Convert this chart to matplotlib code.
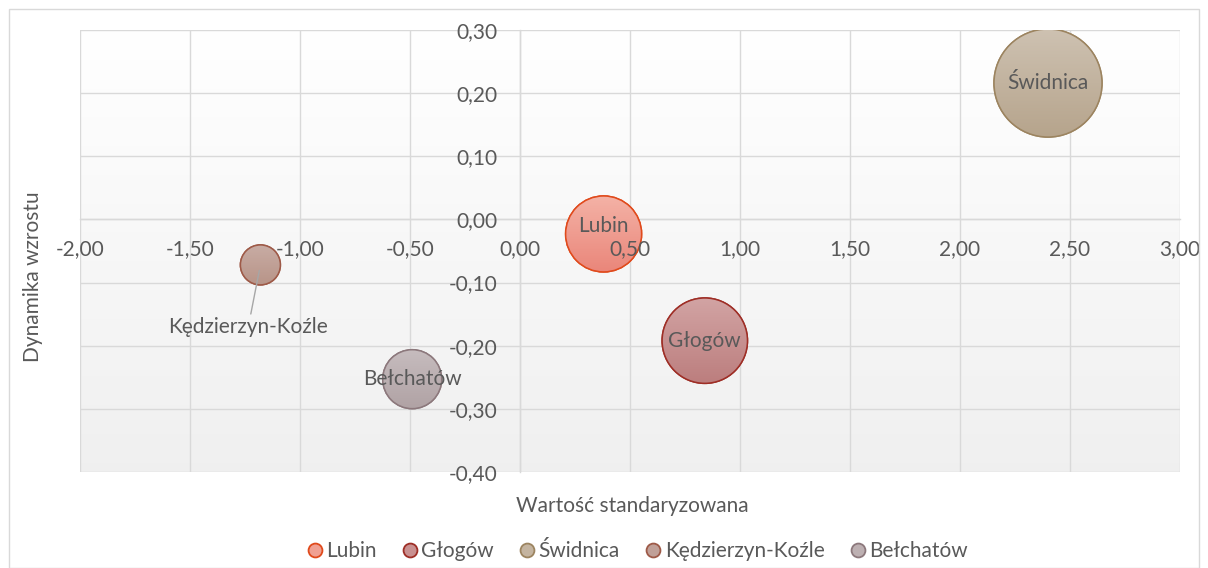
import numpy as np
import matplotlib
matplotlib.use("Agg")
import matplotlib.pyplot as plt
from matplotlib.patches import Circle, Rectangle
from matplotlib.lines import Line2D
from matplotlib.ticker import FuncFormatter, MultipleLocator
from matplotlib.transforms import ScaledTranslation

plt.rcParams['font.family'] = ['Lato', 'DejaVu Sans']

# data
cities = ['Lubin', 'Głogów', 'Świdnica', 'Kędzierzyn-Koźle', 'Bełchatów']
std_value = [0.38, 0.84, 2.40, -1.18, -0.49]
growth = [-0.023, -0.192, 0.216, -0.072, -0.253]
bubble_size = [49.5, 62.5, 100.0, 13.7, 29.8]

# styles
top_col = ['#F4B2A6', '#D2A4A4', '#CEC2B2', '#C8ACA4', '#C6BCBE']
bot_col = ['#EA867A', '#BC7E7E', '#B6A48C', '#B89488', '#B0A2A4']
edge_col = ['#E04A1C', '#9E2E26', '#9C8460', '#9E5A48', '#8C787C']
legend_fill = ['#F0A092', '#C99090', '#C4B4A0', '#C0A098', '#BDB0B2']
txt = '#595959'
grid_c = '#D9D9D9'
fs = 15

fig = plt.figure(figsize=(12.08, 5.68), dpi=100)
fig.patches.append(Rectangle((9 / 1208, 0), 1 - 18 / 1208, 1 - 9 / 568, transform=fig.transFigure,
                             fill=False, edgecolor=grid_c, linewidth=1))
ax = fig.add_axes([80 / 1208, 96 / 568, 1100 / 1208, 442 / 568])
ax.set_xlim(-2, 3)
ax.set_ylim(-0.4, 0.3)
ax.set_axisbelow(False)

# plot area gradient
grad = np.linspace(0, 1, 256).reshape(-1, 1)
bg = np.ones((256, 1, 3))
for i in range(3):
    bg[:, 0, i] = 1.0 - 0.06 * grad[:, 0]
ax.imshow(bg, extent=[0, 1, 0, 1], transform=ax.transAxes, aspect='auto', zorder=0)

for xv in np.arange(-2, 3.01, 0.5):
    ax.axvline(xv, color=grid_c, lw=1, zorder=0.6)
for yv in np.arange(-0.4, 0.301, 0.1):
    ax.axhline(yv, color=grid_c, lw=1, zorder=0.6)

for s in ['top', 'right']:
    ax.spines[s].set_visible(False)
ax.spines['left'].set_position(('data', 0))
ax.spines['bottom'].set_position(('data', 0))
for s in ['left', 'bottom']:
    ax.spines[s].set_color(grid_c)
    ax.spines[s].set_linewidth(1)
    ax.spines[s].set_zorder(0.7)

fmt = FuncFormatter(lambda v, p: f"{v:.2f}".replace('.', ','))
ax.xaxis.set_major_locator(MultipleLocator(0.5))
ax.yaxis.set_major_locator(MultipleLocator(0.1))
ax.xaxis.set_major_formatter(fmt)
ax.yaxis.set_major_formatter(fmt)
ax.tick_params(axis='x', length=0, pad=14, labelsize=fs, colors=txt)
ax.tick_params(axis='y', length=0, pad=16, labelsize=fs, colors=txt)

# bubbles
s_max = (108 * 0.72) ** 2
sizes = [s_max * b / max(bubble_size) for b in bubble_size]
ax.scatter(std_value, growth, s=sizes, c=legend_fill, edgecolors=edge_col, linewidths=1.1, zorder=2)

for i in range(len(cities)):
    r_in = np.sqrt(sizes[i]) / 2 / 72
    tr = fig.dpi_scale_trans + ScaledTranslation(std_value[i], growth[i], ax.transData)
    circ = Circle((0, 0), r_in, transform=tr, facecolor='none', edgecolor=edge_col[i], lw=1.1, zorder=2.2)
    ax.add_patch(circ)
    c0 = np.array(matplotlib.colors.to_rgb(top_col[i]))
    c1 = np.array(matplotlib.colors.to_rgb(bot_col[i]))
    g = c0 + (c1 - c0) * grad[:, :, None]
    im = ax.imshow(g, extent=[-r_in, r_in, -r_in, r_in], transform=tr, aspect='auto', zorder=2.1)
    im.set_clip_path(circ)

# data labels
for i, name in enumerate(cities):
    if name == 'Kędzierzyn-Koźle':
        continue
    dy = 0.013 if name == 'Lubin' else 0
    ax.text(std_value[i], growth[i] + dy, name, ha='center', va='center', fontsize=fs, color=txt, zorder=3)
ki = cities.index('Kędzierzyn-Koźle')
ax.annotate('Kędzierzyn-Koźle', xy=(std_value[ki], growth[ki]), xytext=(-1.235, -0.17),
            ha='center', va='center', fontsize=fs, color=txt, zorder=3,
            arrowprops=dict(arrowstyle='-', color='#A6A6A6', lw=1, shrinkA=0, shrinkB=4))

fig.text(632 / 1208, 1 - 506 / 568, 'Wartość standaryzowana', ha='center', va='center', fontsize=fs, color=txt)
fig.text(33 / 1208, 1 - 277 / 568, 'Dynamika wzrostu', ha='center', va='center', rotation=90,
         fontsize=fs, color=txt)

handles = [Line2D([], [], marker='o', ls='', markersize=10, markerfacecolor=legend_fill[i],
                  markeredgecolor=edge_col[i], markeredgewidth=1.3) for i in range(len(cities))]
fig.legend(handles, cities, loc='center', bbox_to_anchor=(636 / 1208, 1 - 551 / 568), ncol=5, frameon=False,
           fontsize=fs, labelcolor=txt, handletextpad=0.05, columnspacing=1.1, handlelength=1)

fig.savefig('out.png', dpi=100)
